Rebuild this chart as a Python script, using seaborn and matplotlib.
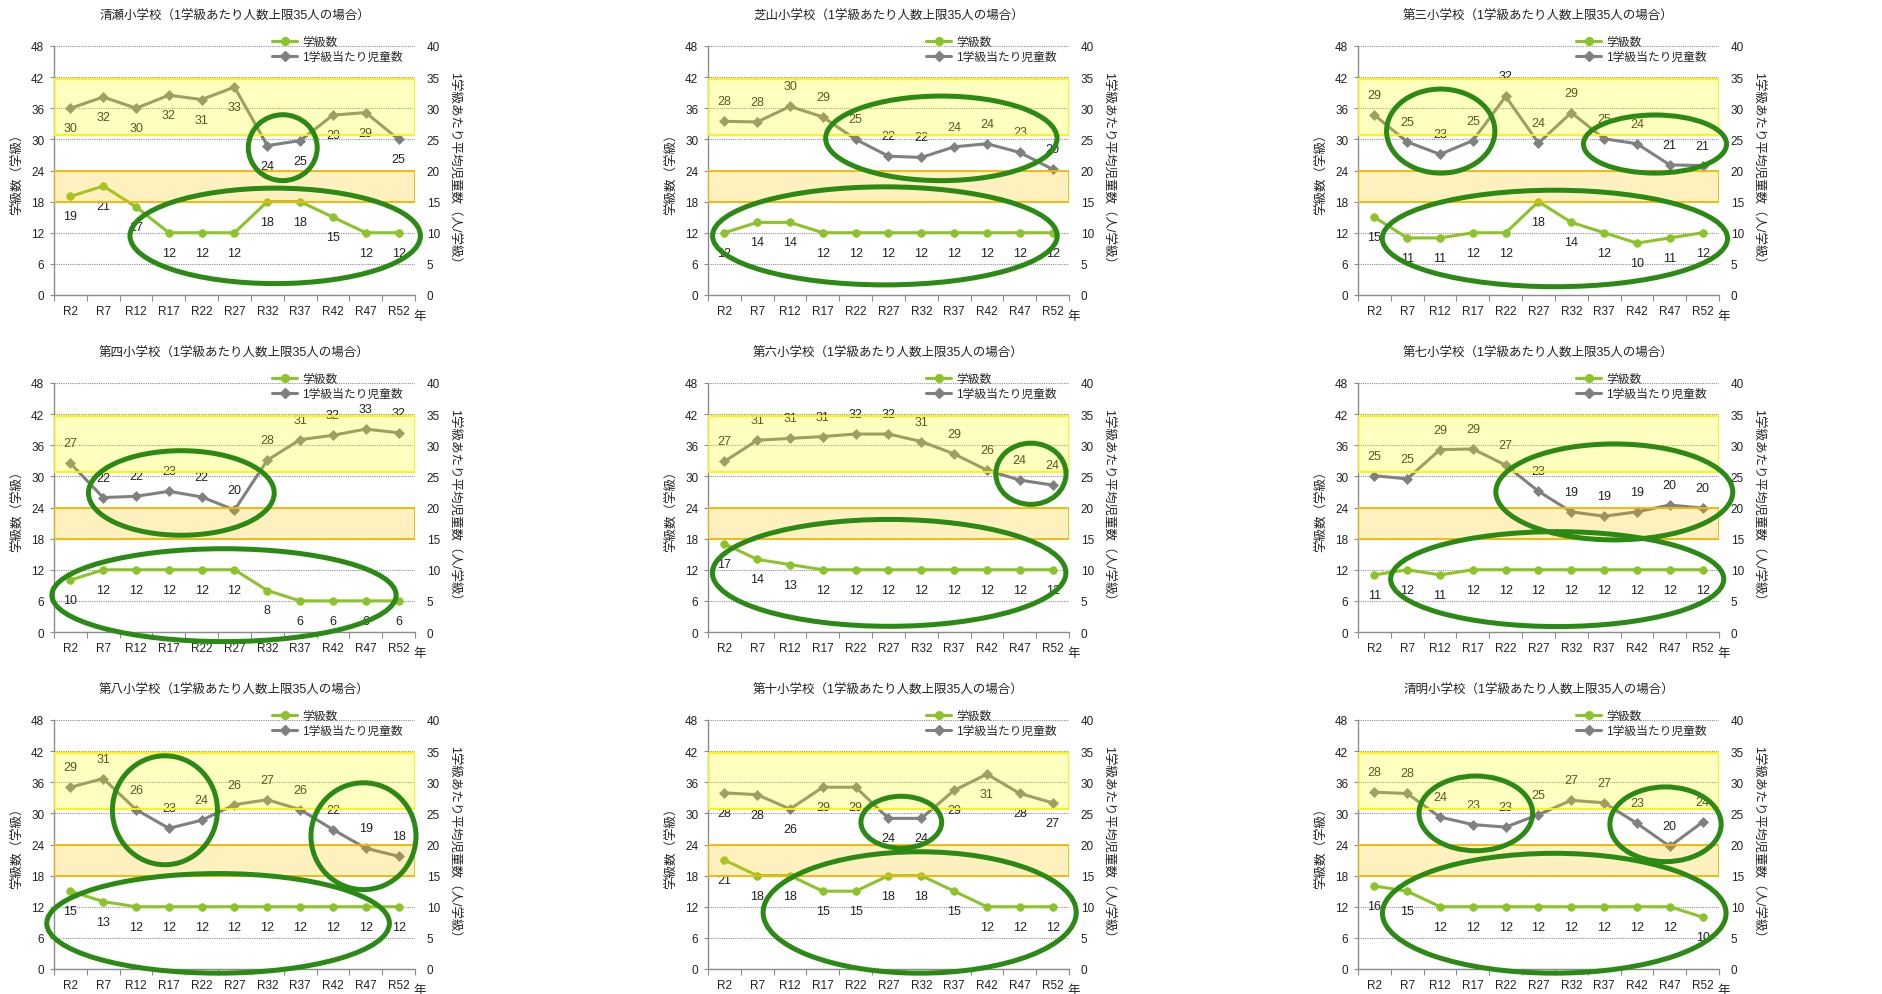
import matplotlib

matplotlib.use("Agg")

import matplotlib.pyplot as plt
import numpy as np
import pandas as pd
import seaborn as sns
from matplotlib.lines import Line2D
from matplotlib.patches import Ellipse

YEARS = ["R2", "R7", "R12", "R17", "R22", "R27", "R32", "R37", "R42", "R47", "R52"]

# 学級数 (left axis) and 1学級当たり児童数 (right axis) per school
KIYOSE_CLASSES = [19, 21, 17, 12, 12, 12, 18, 18, 15, 12, 12]
KIYOSE_PUPILS = [30.0, 31.8, 30.0, 32.1, 31.4, 33.4, 24.0, 24.8, 28.9, 29.3, 25.0]

SHIBAYAMA_CLASSES = [12, 14, 14, 12, 12, 12, 12, 12, 12, 12, 12]
SHIBAYAMA_PUPILS = [27.9, 27.8, 30.3, 28.6, 25.0, 22.3, 22.1, 23.8, 24.3, 22.9, 20.2]

DAI3_CLASSES = [15, 11, 11, 12, 12, 18, 14, 12, 10, 11, 12]
DAI3_PUPILS = [28.9, 24.6, 22.6, 24.8, 31.9, 24.4, 29.3, 25.1, 24.3, 20.9, 20.8]

DAI4_CLASSES = [10, 12, 12, 12, 12, 12, 8, 6, 6, 6, 6]
DAI4_PUPILS = [27.1, 21.6, 21.8, 22.6, 21.7, 19.6, 27.6, 30.9, 31.6, 32.6, 32.0]

DAI6_CLASSES = [17, 14, 13, 12, 12, 12, 12, 12, 12, 12, 12]
DAI6_PUPILS = [27.4, 30.8, 31.1, 31.4, 31.8, 31.8, 30.6, 28.6, 26.0, 24.4, 23.6]

DAI7_CLASSES = [11, 12, 11, 12, 12, 12, 12, 12, 12, 12, 12]
DAI7_PUPILS = [25.1, 24.6, 29.3, 29.4, 26.8, 22.6, 19.3, 18.6, 19.3, 20.4, 19.9]

DAI8_CLASSES = [15, 13, 12, 12, 12, 12, 12, 12, 12, 12, 12]
DAI8_PUPILS = [29.2, 30.6, 25.6, 22.6, 23.9, 26.4, 27.2, 25.6, 22.4, 19.4, 18.1]

DAI10_CLASSES = [21, 18, 18, 15, 15, 18, 18, 15, 12, 12, 12]
DAI10_PUPILS = [28.3, 28.0, 25.7, 29.2, 29.2, 24.2, 24.2, 28.7, 31.3, 28.2, 26.7]

SEIMEI_CLASSES = [16, 15, 12, 12, 12, 12, 12, 12, 12, 12, 10]
SEIMEI_PUPILS = [28.4, 28.2, 24.4, 23.2, 22.8, 24.8, 27.1, 26.7, 23.4, 19.7, 23.6]

SCHOOLS = [
    ("清瀬小学校", KIYOSE_CLASSES, KIYOSE_PUPILS),
    ("芝山小学校", SHIBAYAMA_CLASSES, SHIBAYAMA_PUPILS),
    ("第三小学校", DAI3_CLASSES, DAI3_PUPILS),
    ("第四小学校", DAI4_CLASSES, DAI4_PUPILS),
    ("第六小学校", DAI6_CLASSES, DAI6_PUPILS),
    ("第七小学校", DAI7_CLASSES, DAI7_PUPILS),
    ("第八小学校", DAI8_CLASSES, DAI8_PUPILS),
    ("第十小学校", DAI10_CLASSES, DAI10_PUPILS),
    ("清明小学校", SEIMEI_CLASSES, SEIMEI_PUPILS),
]

# label offset (px) for the pupils series: below for some charts, above for others
PUPIL_LABEL_DY = [-20, 20, 20, 20, 20, 20, 20, -20, 20]

# highlight rings, in (category, left-axis) units: x centre, y centre, width, height
RINGS = [
    [(6.47, 28.4, 2.1, 12.7), (6.24, 11.4, 8.85, 18.4)],
    [(6.61, 30.2, 7.05, 16.3), (4.89, 11.4, 10.5, 18.9)],
    [(2.02, 31.6, 3.3, 16.2), (8.55, 29.1, 4.36, 11.2), (5.5, 10.9, 10.52, 18.6)],
    [(3.38, 26.8, 5.66, 16.3), (4.68, 7.1, 10.49, 17.9)],
    [(9.34, 30.5, 2.14, 11.8), (5.02, 11.4, 10.77, 20.6)],
    [(7.31, 27.0, 7.22, 18.5), (5.57, 10.2, 10.15, 18.3)],
    [(2.88, 30.6, 3.2, 21.0), (8.93, 25.6, 3.2, 20.6), (4.5, 8.8, 10.44, 19.2)],
    [(5.39, 28.3, 2.46, 10.0), (5.95, 10.9, 9.54, 23.4)],
    [(3.09, 30.0, 3.46, 14.4), (8.87, 27.9, 3.39, 14.4), (5.48, 10.75, 10.47, 23.1)],
]

GREEN = "#8cc32a"
GRAY = "#808080"
RING = "#2a8a14"
SPINE = "#8c8c8c"
TEXT = "#222222"

COL_LEFT = [54, 708, 1358]
ROW_BOTTOM = [296, 633, 970]
W, H = 1883, 995
AX_W, AX_H = 361, 249

sns.set_theme(style="white")
plt.rcParams["font.family"] = ["Liberation Sans", "Noto Sans CJK JP", "DejaVu Sans"]


def draw_panel(fig, rect, school, classes, pupils, label_dy, rings):
    ax = fig.add_axes(rect)
    ax.set_facecolor("none")
    ax2 = ax.twinx()

    df = pd.DataFrame({"pos": np.arange(len(YEARS)), "classes": classes, "pupils": pupils})

    sns.lineplot(data=df, x="pos", y="classes", ax=ax, color=GREEN, linewidth=2.2,
                 marker="o", markersize=5.5, markeredgecolor=GREEN, markeredgewidth=0.5,
                 sort=False, legend=False, zorder=3)
    sns.lineplot(data=df, x="pos", y="pupils", ax=ax2, color=GRAY, linewidth=2.2,
                 marker="D", markersize=5, markeredgecolor=GRAY, markeredgewidth=0.5,
                 sort=False, legend=False, zorder=3)

    for i, v in enumerate(classes):
        ax.annotate(f"{v:.0f}", (i, v), xytext=(0, -20), textcoords="offset pixels",
                    ha="center", va="center", fontsize=9, color=TEXT, zorder=4)
    for i, v in enumerate(pupils):
        ax2.annotate(f"{v:.0f}", (i, v), xytext=(0, label_dy), textcoords="offset pixels",
                     ha="center", va="center", fontsize=9, color=TEXT, zorder=4)

    # bands laid over the lines, as in the original
    ax2.axhspan(25.7, 34.7, facecolor=(1, 1, 0, 0.25), edgecolor=(1, 0.95, 0, 1), lw=1.3, zorder=6)
    ax2.axhspan(15, 20, facecolor=(1, 0.78, 0, 0.25), edgecolor=(0.95, 0.72, 0, 1), lw=1.3, zorder=6)

    ax.set_xlim(-0.5, len(YEARS) - 0.5)
    ax.set_ylim(0, 48)
    ax.set_yticks(np.arange(0, 49, 6))
    ax2.set_ylim(0, 40)
    ax2.set_yticks(np.arange(0, 41, 5))

    ax.set_xticks(np.arange(-0.5, len(YEARS), 1))
    ax.set_xticklabels([])
    ax.set_xticks(np.arange(len(YEARS)), minor=True)
    ax.set_xticklabels(YEARS, minor=True)
    ax.tick_params(axis="x", which="major", length=4, width=0.8, color=SPINE, direction="out", bottom=True)
    ax.tick_params(axis="x", which="minor", length=0, pad=7, labelsize=8.5, labelcolor=TEXT, bottom=True)
    ax.tick_params(axis="y", length=3, width=0.8, color=SPINE, pad=4, labelsize=8.5, labelcolor=TEXT, left=True)
    ax2.tick_params(axis="y", length=0, pad=8.5, labelsize=8.5, labelcolor=TEXT)

    ax.yaxis.grid(True, linestyle=(0, (1, 1)), color="#8f8f8f", linewidth=0.8)
    ax.xaxis.grid(False)
    ax2.grid(False)
    ax.set_axisbelow(True)

    for s in ["top", "right"]:
        ax.spines[s].set_visible(False)
    for s in ["left", "bottom"]:
        ax.spines[s].set_color(SPINE)
        ax.spines[s].set_linewidth(1.0)
    for s in ax2.spines.values():
        s.set_visible(False)

    ax.set_xlabel("")
    ax.set_ylabel("学級数（学級）", fontsize=9, color=TEXT, va="center", ha="center")
    ax.yaxis.set_label_coords(-36 / AX_W, 0.5)
    ax2.set_ylabel("1学級あたり平均児童数（人/学級）", fontsize=9, color=TEXT,
                   rotation=-90, va="center", ha="center")
    ax2.yaxis.set_label_coords(1 + 38 / AX_W, 0.5)

    ax.annotate(f"{school}（1学級あたり人数上限35人の場合）", xy=(0.5, 1), xycoords="axes fraction",
                xytext=(0, 30), textcoords="offset pixels", ha="center", va="center",
                fontsize=9, color=TEXT)
    ax.annotate("年", xy=(1, 0), xycoords="axes fraction", xytext=(5, -21),
                textcoords="offset pixels", ha="center", va="center", fontsize=9, color=TEXT)

    handles = [
        Line2D([], [], color=GREEN, lw=2.2, marker="o", markersize=5.5),
        Line2D([], [], color=GRAY, lw=2.2, marker="D", markersize=5),
    ]
    ax2.legend(handles, ["学級数", "1学級当たり児童数"], loc="center left",
               bbox_to_anchor=(0.605, 0.986), frameon=False, fontsize=8.5,
               handlelength=2.1, handletextpad=0.4, labelspacing=0.3,
               borderaxespad=0, borderpad=0)

    for xc, yc, w, h in rings:
        ax2.add_patch(Ellipse((xc, yc), w, h, transform=ax.transData, fill=False,
                              edgecolor=RING, linewidth=3.6, clip_on=False, zorder=8))


fig = plt.figure(figsize=(W / 100, H / 100), dpi=100)
for k, (school, classes, pupils) in enumerate(SCHOOLS):
    row, col = divmod(k, 3)
    rect = [COL_LEFT[col] / W, 1 - ROW_BOTTOM[row] / H, AX_W / W, AX_H / H]
    draw_panel(fig, rect, school, classes, pupils, PUPIL_LABEL_DY[k], RINGS[k])

fig.savefig("out.png", dpi=100)
plt.close(fig)
